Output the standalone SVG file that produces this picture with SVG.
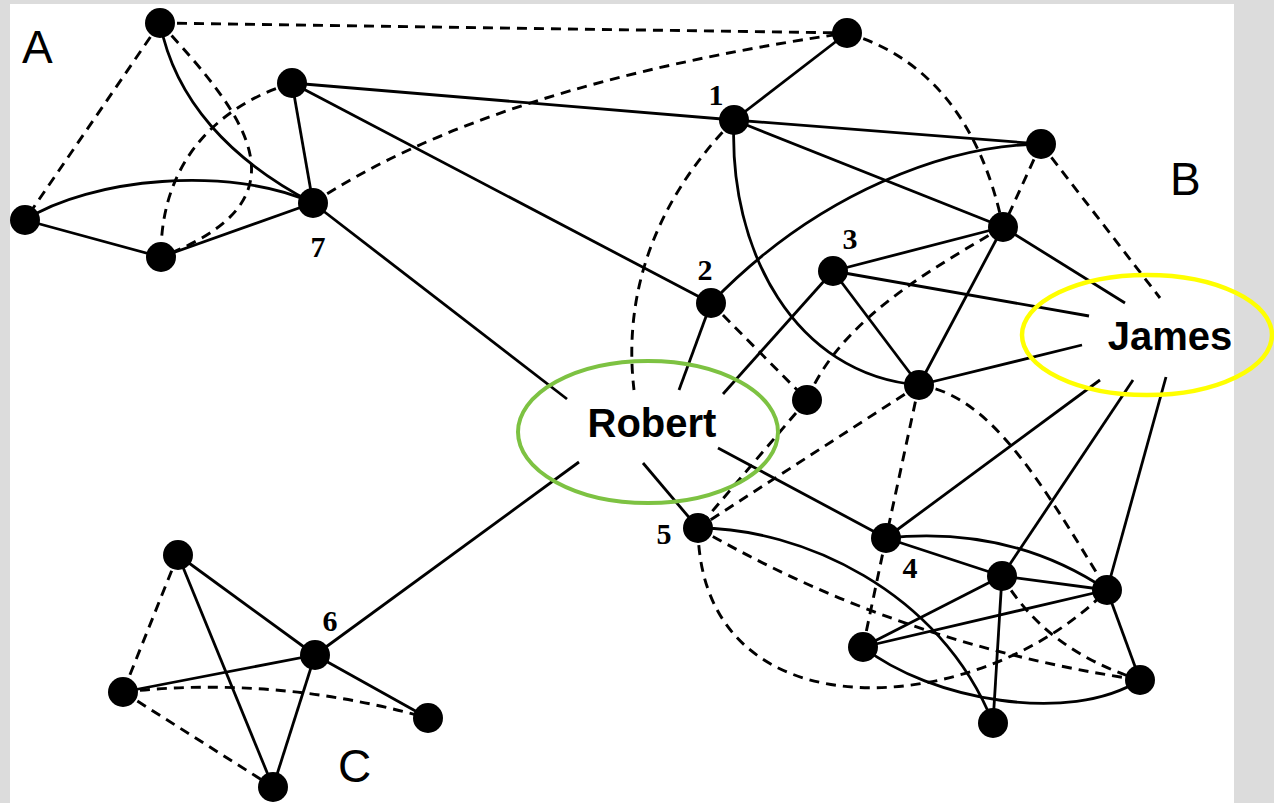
<svg xmlns="http://www.w3.org/2000/svg" width="1274" height="803" viewBox="0 0 1274 803">
<style>
.s{fill:none;stroke:#000;stroke-width:2.8}
.d{fill:none;stroke:#000;stroke-width:2.9;stroke-dasharray:10 7}
.n{fill:#000}
.lbl{font-family:"Liberation Serif","Times New Roman",serif;font-weight:bold;font-size:30px;text-anchor:middle}
.big{font-family:"Liberation Sans",Arial,sans-serif;font-size:46px}
.name{font-family:"Liberation Sans",Arial,sans-serif;font-weight:bold;font-size:40px;text-anchor:middle}
</style>
<rect x="0" y="0" width="1274" height="803" fill="#dcdcdc"/>
<rect x="10" y="4" width="1224" height="799" fill="#ffffff"/>
<g id="connectors">
<path class="s" d="M160,23 C175,100 230,160 313,203"/>
<path class="s" d="M25,220 C90,178 230,165 313,203"/>
<path class="s" d="M25,220 L161,257"/>
<path class="s" d="M161,257 L313,203"/>
<path class="s" d="M292,83 L313,203"/>
<path class="s" d="M292,83 L734,120"/>
<path class="s" d="M292,83 L711,303"/>
<path class="s" d="M313,203 L567,399"/>
<path class="s" d="M847,33 L734,120"/>
<path class="s" d="M734,120 L1041,144"/>
<path class="s" d="M734,120 L1003,227"/>
<path class="s" d="M734,120 C728,250 795,375 919,385"/>
<path class="s" d="M1041,144 C950,145 820,190 711,303"/>
<path class="s" d="M1003,227 L1125,303"/>
<path class="s" d="M1003,227 L833,271"/>
<path class="s" d="M1003,227 L919,385"/>
<path class="s" d="M833,271 L1089,316"/>
<path class="s" d="M833,271 L919,385"/>
<path class="s" d="M833,271 L723,394"/>
<path class="s" d="M711,303 L679,390"/>
<path class="s" d="M919,385 L1082,345"/>
<path class="s" d="M718,448 L886,538"/>
<path class="s" d="M643,463 L698,528"/>
<path class="s" d="M579,462 L315,655"/>
<path class="s" d="M1100,380 L886,538"/>
<path class="s" d="M1133,380 L1002,576"/>
<path class="s" d="M1166,377 L1107,590"/>
<path class="s" d="M698,528 C800,528 940,590 993,723"/>
<path class="s" d="M886,538 L1002,576"/>
<path class="s" d="M886,538 Q1010,525 1107,590"/>
<path class="s" d="M863,647 L1002,576"/>
<path class="s" d="M863,647 L1107,590"/>
<path class="s" d="M863,647 C930,700 1070,725 1140,680"/>
<path class="s" d="M1002,576 L993,723"/>
<path class="s" d="M1002,576 L1107,590"/>
<path class="s" d="M1107,590 L1140,680"/>
<path class="s" d="M178,555 L315,655"/>
<path class="s" d="M178,555 L273,787"/>
<path class="s" d="M123,692 L315,655"/>
<path class="s" d="M315,655 L428,718"/>
<path class="s" d="M315,655 L273,787"/>
<path class="d" d="M160,23 L25,220"/>
<path class="d" d="M160,23 C250,120 310,200 161,257"/>
<path class="d" d="M292,83 C220,105 160,160 161,257"/>
<path class="d" d="M160,23 L847,33"/>
<path class="d" d="M313,203 Q490,85 847,33"/>
<path class="d" d="M847,33 Q970,70 1003,227"/>
<path class="d" d="M1041,144 L1003,227"/>
<path class="d" d="M1041,144 L1160,298"/>
<path class="d" d="M734,120 C675,180 620,270 634,390"/>
<path class="d" d="M1003,227 C930,270 840,320 807,400"/>
<path class="d" d="M711,303 L807,400"/>
<path class="d" d="M807,400 L698,528"/>
<path class="d" d="M919,385 L698,528"/>
<path class="d" d="M919,385 L886,538"/>
<path class="d" d="M919,385 C990,395 1040,480 1107,590"/>
<path class="d" d="M698,528 C700,740 980,720 1107,590"/>
<path class="d" d="M698,528 Q900,645 1140,680"/>
<path class="d" d="M886,538 L863,647"/>
<path class="d" d="M1002,576 Q1045,650 1140,680"/>
<path class="d" d="M178,555 L123,692"/>
<path class="d" d="M123,692 Q275,675 428,718"/>
<path class="d" d="M123,692 L273,787"/>
</g>
<g id="labels">
<text class="big" x="22" y="63">A</text>
<text class="big" x="1170" y="195">B</text>
<text class="big" x="338" y="782">C</text>
</g>
<g id="nA1"><circle class="n" cx="160" cy="23" r="15"/></g>
<g id="nA2"><circle class="n" cx="292" cy="83" r="15"/></g>
<g id="nA3"><circle class="n" cx="25" cy="220" r="15"/></g>
<g id="nA4"><circle class="n" cx="161" cy="257" r="15"/></g>
<g id="n7"><circle class="n" cx="313" cy="203" r="15"/><text class="lbl" x="318" y="257">7</text></g>
<g id="nT1"><circle class="n" cx="847" cy="33" r="15"/></g>
<g id="n1"><circle class="n" cx="734" cy="120" r="15"/><text class="lbl" x="716" y="105">1</text></g>
<g id="nR1"><circle class="n" cx="1041" cy="144" r="15"/></g>
<g id="nR2"><circle class="n" cx="1003" cy="227" r="15"/></g>
<g id="n2"><circle class="n" cx="711" cy="303" r="15"/><text class="lbl" x="705" y="280">2</text></g>
<g id="n3"><circle class="n" cx="833" cy="271" r="15"/><text class="lbl" x="850" y="249">3</text></g>
<g id="nM1"><circle class="n" cx="807" cy="400" r="15"/></g>
<g id="nC1"><circle class="n" cx="919" cy="385" r="15"/></g>
<g id="n5"><circle class="n" cx="698" cy="528" r="15"/><text class="lbl" x="664" y="544">5</text></g>
<g id="n4"><circle class="n" cx="886" cy="538" r="15"/><text class="lbl" x="910" y="578">4</text></g>
<g id="nB2"><circle class="n" cx="1002" cy="576" r="15"/></g>
<g id="nB3"><circle class="n" cx="1107" cy="590" r="15"/></g>
<g id="nB4"><circle class="n" cx="863" cy="647" r="15"/></g>
<g id="nB5"><circle class="n" cx="1140" cy="680" r="15"/></g>
<g id="nB6"><circle class="n" cx="993" cy="723" r="15"/></g>
<g id="nCtop"><circle class="n" cx="178" cy="555" r="15"/></g>
<g id="nCleft"><circle class="n" cx="123" cy="692" r="15"/></g>
<g id="n6"><circle class="n" cx="315" cy="655" r="15"/><text class="lbl" x="330" y="631">6</text></g>
<g id="nCright"><circle class="n" cx="428" cy="718" r="15"/></g>
<g id="nCbot"><circle class="n" cx="273" cy="787" r="15"/></g>
<g id="robert"><ellipse cx="648" cy="432" rx="130" ry="71" fill="none" stroke="#7dc242" stroke-width="4"/><text class="name" x="652" y="437">Robert</text></g>
<g id="james"><ellipse cx="1147" cy="335" rx="125" ry="60" fill="none" stroke="#ffff00" stroke-width="4.5"/><text class="name" x="1170" y="350">James</text></g>
</svg>
